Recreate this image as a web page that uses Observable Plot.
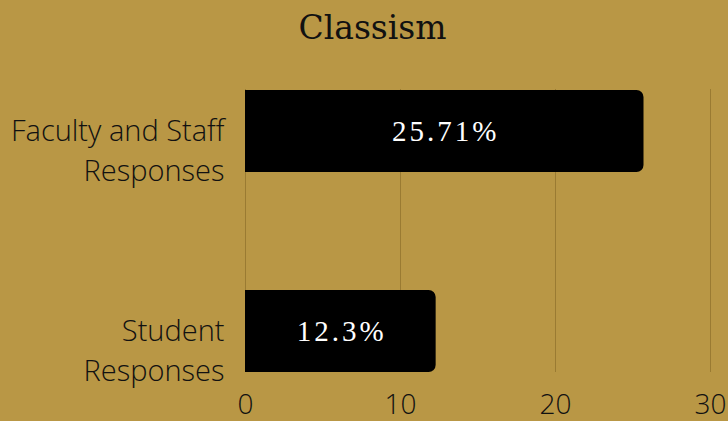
<!DOCTYPE html>
<html>
<head>
<meta charset="utf-8">
<script src="https://cdn.jsdelivr.net/npm/d3@7"></script>
<script src="https://cdn.jsdelivr.net/npm/@observablehq/plot@0.6"></script>
<style>
  html, body { margin: 0; padding: 0; background: #b99745; width: 728px; height: 421px; overflow: hidden; }
  #title { height: 70px; box-sizing: border-box; padding-top: 11px; padding-left: 17px; text-align: center;
           font-family: "DejaVu Serif", serif; font-size: 33px; line-height: 33px; color: #111; }
  #chart svg g[aria-label="text"] text { letter-spacing: 3px; }
</style>
</head>
<body>
<div id="title">Classism</div>
<div id="chart"></div>
<script>
const categories = ["Faculty and Staff Responses", "Student Responses"];
const categoryLabels = ["Faculty and Staff\nResponses", "Student\nResponses"];
const values = [25.71, 12.3];
const valueLabels = ["25.71%", "12.3%"];
const tickValues = [0, 10, 20, 30];

const data = categories.map((c, i) => ({category: c, value: values[i], label: valueLabels[i]}));

const chart = Plot.plot({
  width: 728,
  height: 351,
  marginTop: 19,
  marginBottom: 49,
  marginLeft: 245,
  marginRight: 18,
  style: {background: "transparent", color: "#111", fontFamily: "'Open Sans', sans-serif", overflow: "visible"},
  x: {domain: [0, 30], ticks: tickValues, label: null},
  y: {domain: categories, paddingInner: 0.592, paddingOuter: 0, label: null},
  marks: [
    Plot.gridX(tickValues, {stroke: "#9a7b32", strokeOpacity: 1}),
    Plot.barX(data, {y: "category", x: "value", fill: "#000", rx: 7}),
    Plot.barX(data, {y: "category", x1: 0, x2: d => d.value / 2, fill: "#000"}),
    Plot.text(data, {y: "category", x: d => d.value / 2, text: "label", fill: "white", dx: 1,
      fontFamily: "'Liberation Serif', serif", fontSize: 29}),
    Plot.axisX(tickValues, {tickSize: 0, tickPadding: 22, fontSize: 28, fontWeight: 300, label: null}),
    Plot.axisY({tickSize: 0, tickPadding: 21, fontSize: 29, fontWeight: 300, dy: 17, lineHeight: 1.36,
      tickFormat: c => categoryLabels[categories.indexOf(c)], label: null})
  ]
});
document.getElementById("chart").appendChild(chart);
</script>
</body>
</html>
